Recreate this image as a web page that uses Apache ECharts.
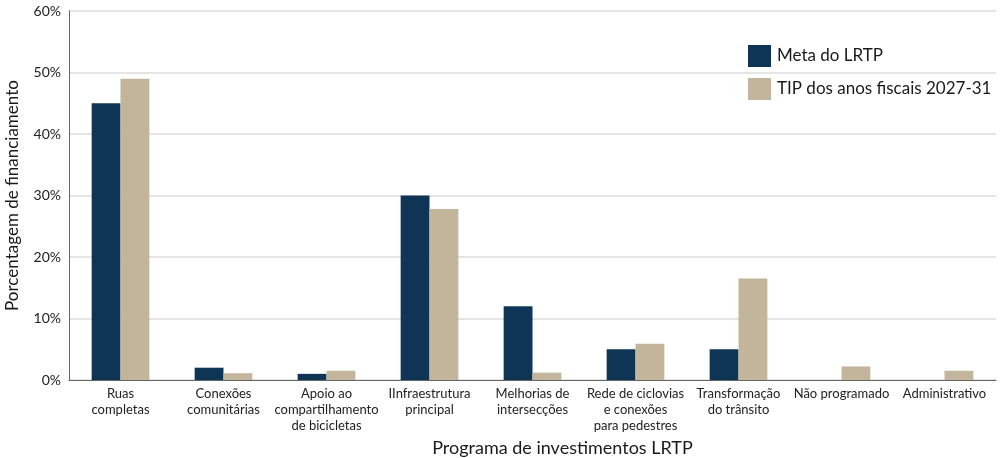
<!DOCTYPE html>
<html>
<head>
<meta charset="utf-8">
<script src="https://cdn.jsdelivr.net/npm/echarts@6/dist/echarts.min.js"></script>
<style>
  html, body {margin: 0; padding: 0; background: #fff;}
  #chart {width: 1000px; height: 458px;}
</style>
</head>
<body>
<div id="chart"></div>
<script>
// LRTP investment programs vs. FY2027-31 TIP funding share (%)
const categories = [
  "Ruas\ncompletas",
  "Conexões\ncomunitárias",
  "Apoio ao\ncompartilhamento\nde bicicletas",
  "IInfraestrutura\nprincipal",
  "Melhorias de\nintersecções",
  "Rede de ciclovias\ne conexões\npara pedestres",
  "Transformação\ndo trânsito",
  "Não programado",
  "Administrativo",
]
const metaLrtp = [45, 2, 1, 30, 12, 5, 5, 0, 0]
const tipFy2731 = [49, 1.1, 1.5, 27.8, 1.2, 5.9, 16.5, 2.2, 1.5]
const seriesNames = ["Meta do LRTP", "TIP dos anos fiscais 2027-31"]

const FONT = "Lato, sans-serif"
const NAVY = "#0e3456"
const TAN = "#c2b59b"

const chart = echarts.init(document.getElementById("chart"), null, {renderer: "canvas"})

chart.setOption({
  backgroundColor: "#fff",
  animation: false,
  textStyle: {fontFamily: FONT},
  grid: {left: 69, right: 4, top: 11, bottom: 78, outerBoundsMode: "none"},
  legend: {
    orient: "vertical",
    left: 748,
    top: 45,
    padding: 0,
    itemWidth: 23,
    itemHeight: 22,
    itemGap: 11,
    icon: "rect",
    textStyle: {fontSize: 17, color: "#1a1a1a", fontFamily: FONT, padding: [0, 0, 0, 1]},
    data: seriesNames,
  },
  xAxis: {
    type: "category",
    data: categories,
    name: "Programa de investimentos LRTP",
    nameLocation: "middle",
    nameGap: 59,
    nameTextStyle: {fontSize: 18, color: "#1a1a1a", padding: [0, 0, 0, 60]},
    axisLine: {lineStyle: {color: "#666", width: 1}},
    axisTick: {show: false},
    axisLabel: {
      interval: 0,
      margin: 6,
      fontSize: 13,
      lineHeight: 16,
      color: "#222",
    },
  },
  yAxis: {
    type: "value",
    min: 0,
    max: 60,
    interval: 10,
    name: "Porcentagem de financiamento",
    nameLocation: "middle",
    nameGap: 48,
    nameTextStyle: {fontSize: 17, color: "#1a1a1a"},
    axisLine: {show: true, lineStyle: {color: "#666", width: 1}},
    axisTick: {show: false},
    axisLabel: {
      formatter: "{value}%",
      fontSize: 14,
      color: "#222",
      margin: 8,
    },
    splitLine: {lineStyle: {color: "#dcdcdc", width: 1.5}},
  },
  series: [
    {
      name: seriesNames[0],
      type: "bar",
      data: metaLrtp,
      barWidth: "28%",
      barGap: "0%",
      itemStyle: {color: NAVY},
    },
    {
      name: seriesNames[1],
      type: "bar",
      data: tipFy2731,
      barWidth: "28%",
      barGap: "0%",
      itemStyle: {color: TAN},
    },
  ],
})
</script>
</body>
</html>
